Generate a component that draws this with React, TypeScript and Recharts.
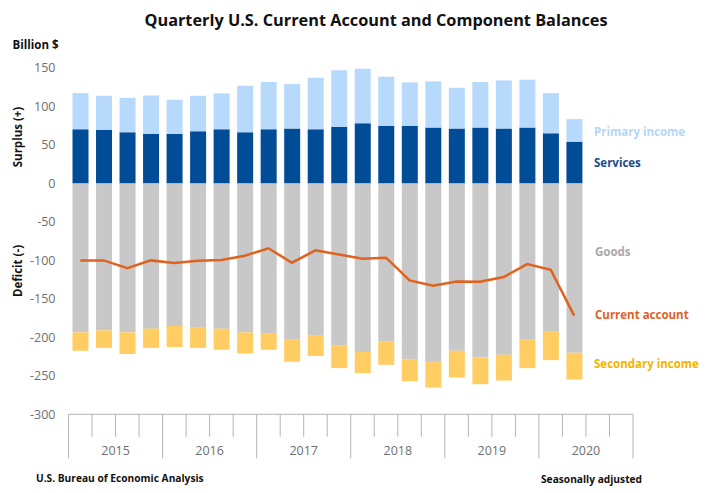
import React from "react";
import { ComposedChart, Bar, Line, XAxis, YAxis } from "recharts";

const QUARTERS = [
  "2015Q1", "2015Q2", "2015Q3", "2015Q4",
  "2016Q1", "2016Q2", "2016Q3", "2016Q4",
  "2017Q1", "2017Q2", "2017Q3", "2017Q4",
  "2018Q1", "2018Q2", "2018Q3", "2018Q4",
  "2019Q1", "2019Q2", "2019Q3", "2019Q4",
  "2020Q1", "2020Q2", "2020Q3", "2020Q4",
];

const SERVICES = [70.4, 69.6, 66.5, 64.3, 64.3, 67.8, 70.4, 66.5, 70.4, 71.3, 70.4, 73.5, 78.3, 74.8, 74.8, 72.6, 71.3, 72.6, 71.3, 72.6, 65.2, 54.3];
const PRIMARY_INCOME = [47.0, 44.3, 44.8, 50.0, 44.4, 46.1, 46.6, 60.5, 61.3, 57.8, 67.0, 73.7, 70.8, 63.9, 56.5, 60.0, 53.0, 59.1, 62.6, 62.2, 52.2, 29.2];
const GOODS = [-193.5, -190.9, -193.5, -188.7, -185.2, -187.4, -188.7, -193.5, -195.2, -202.2, -197.8, -210.9, -219.1, -205.7, -228.7, -232.2, -217.4, -226.0, -222.6, -203.0, -192.6, -220.0];
const SECONDARY_INCOME = [-23.9, -23.0, -28.2, -25.2, -27.4, -26.5, -27.4, -27.4, -20.9, -29.5, -26.5, -29.1, -27.4, -30.0, -28.3, -33.0, -34.8, -34.9, -33.5, -37.0, -37.0, -34.8];
const CURRENT_ACCOUNT = [-100.0, -100.0, -110.0, -100.0, -103.5, -100.4, -99.6, -93.9, -84.3, -103.0, -87.0, -92.4, -97.8, -96.5, -126.0, -133.0, -127.4, -127.8, -121.7, -104.8, -112.2, -171.7];

const Y_TICKS = [-300, -250, -200, -150, -100, -50, 0, 50, 100, 150];

const data = QUARTERS.map((q, i) => ({
  q,
  services: i < SERVICES.length ? SERVICES[i] : null,
  primary: i < PRIMARY_INCOME.length ? PRIMARY_INCOME[i] : null,
  goods: i < GOODS.length ? GOODS[i] : null,
  secondary: i < SECONDARY_INCOME.length ? SECONDARY_INCOME[i] : null,
  ca: i < CURRENT_ACCOUNT.length ? CURRENT_ACCOUNT[i] : null,
}));

const W = 708;
const H = 493;
const PLOT_LEFT = 68.5;
const PLOT_RIGHT = 633;
const PLOT_TOP = 68;
const PLOT_BOTTOM = 414.3;
const BAND = (PLOT_RIGHT - PLOT_LEFT) / QUARTERS.length;
const FONT = "'Open Sans', sans-serif";
const AXIS_COLOR = "#b3b3b3";
const TICK_COLOR = "#6f6f6f";

const QuarterTick = (props: any) => {
  const { x, y, payload } = props;
  const value: string = payload.value;
  const left = x - BAND / 2;
  const isQ1 = value.endsWith("Q1");
  const isLast = value === QUARTERS[QUARTERS.length - 1];
  return (
    <g>
      <line x1={left} x2={left} y1={y} y2={y + (isQ1 ? 44 : 22.4)} stroke={AXIS_COLOR} strokeWidth={1} />
      {isQ1 && (
        <text
          x={left + 2 * BAND}
          y={y + 40.5}
          textAnchor="middle"
          fill={TICK_COLOR}
          fontSize={12.5}
          fontFamily={FONT}
        >
          {value.slice(0, 4)}
        </text>
      )}
      {isLast && (
        <line x1={x + BAND / 2} x2={x + BAND / 2} y1={y} y2={y + 44} stroke={AXIS_COLOR} strokeWidth={1} />
      )}
    </g>
  );
};

export default function App() {
  return (
    <div style={{ position: "absolute", left: 0, top: 0, width: W, height: H, background: "#fff" }}>
      <ComposedChart
        width={W}
        height={H}
        data={data}
        stackOffset="sign"
        barSize={16}
        margin={{ top: PLOT_TOP, right: W - PLOT_RIGHT, bottom: 0, left: 0 }}
      >
        <XAxis
          dataKey="q"
          interval={0}
          tickLine={false}
          tickSize={0}
          tickMargin={0}
          height={H - PLOT_BOTTOM}
          axisLine={{ stroke: AXIS_COLOR }}
          tick={<QuarterTick />}
        />
        <YAxis
          width={PLOT_LEFT}
          domain={[-300, 150]}
          ticks={Y_TICKS}
          interval={0}
          axisLine={false}
          tickLine={false}
          tickSize={0}
          tickMargin={13}
          tick={{ fill: TICK_COLOR, fontSize: 12.5, fontFamily: FONT }}
        />
        <Bar dataKey="services" stackId="a" fill="#004c97" isAnimationActive={false} />
        <Bar dataKey="primary" stackId="a" fill="#b7d9fc" isAnimationActive={false} />
        <Bar dataKey="goods" stackId="a" fill="#c7c8c7" isAnimationActive={false} />
        <Bar dataKey="secondary" stackId="a" fill="#ffcd62" isAnimationActive={false} />
        <Line
          dataKey="ca"
          type="linear"
          stroke="#e0621e"
          strokeWidth={2.5}
          dot={false}
          activeDot={false}
          isAnimationActive={false}
        />
      </ComposedChart>
      <svg
        width={W}
        height={H}
        style={{ position: "absolute", left: 0, top: 0, pointerEvents: "none" }}
      >
        <text x={376} y={25.5} textAnchor="middle" fontFamily={FONT} fontWeight={700} fontSize={16.3} fill="#111">
          Quarterly U.S. Current Account and Component Balances
        </text>
        <text x={12.5} y={49} fontFamily={FONT} fontWeight={700} fontSize={11.5} fill="#111">
          Billion $
        </text>
        <text
          x={0}
          y={0}
          transform="translate(21.5,137) rotate(-90)"
          textAnchor="middle"
          fontFamily={FONT}
          fontWeight={700}
          fontSize={11.5}
          fill="#111"
        >
          Surplus (+)
        </text>
        <text
          x={0}
          y={0}
          transform="translate(21.5,271) rotate(-90)"
          textAnchor="middle"
          fontFamily={FONT}
          fontWeight={700}
          fontSize={11.5}
          fill="#111"
        >
          Deficit (-)
        </text>
        <text x={594} y={136} fontFamily={FONT} fontWeight={700} fontSize={11.5} fill="#b4d6f8">
          Primary income
        </text>
        <text x={594} y={166.5} fontFamily={FONT} fontWeight={700} fontSize={11.5} fill="#1a4b8c">
          Services
        </text>
        <text x={595} y={255.5} fontFamily={FONT} fontWeight={700} fontSize={11.5} fill="#a9a9a9">
          Goods
        </text>
        <text x={595} y={319} fontFamily={FONT} fontWeight={700} fontSize={11.5} fill="#e0621e">
          Current account
        </text>
        <text x={594} y={367.5} fontFamily={FONT} fontWeight={700} fontSize={11.5} fill="#f5b300">
          Secondary income
        </text>
        <text x={36} y={482} fontFamily={FONT} fontWeight={700} fontSize={10.2} fill="#111">
          U.S. Bureau of Economic Analysis
        </text>
        <text x={541} y={483} fontFamily={FONT} fontWeight={700} fontSize={10.2} fill="#111">
          Seasonally adjusted
        </text>
      </svg>
    </div>
  );
}
